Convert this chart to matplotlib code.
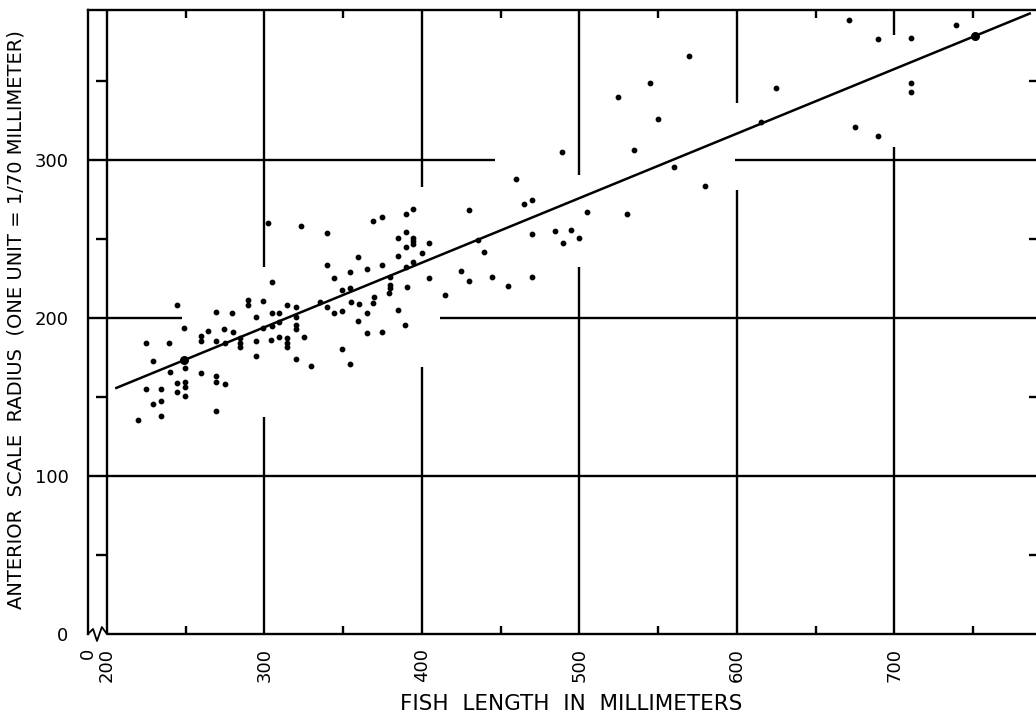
import numpy as np
import matplotlib
matplotlib.use('Agg')
import matplotlib.pyplot as plt

# fish length (mm) vs anterior scale radius (1/70 mm units)
length = [339.5, 339.5, 304.6, 344.3, 354.3, 244.6, 289.3, 289.3, 299.2, 269.6,
          279.6, 294.4, 304.6, 309.4, 314.5, 319.8, 319.8, 335.2, 339.5, 344.3,
          349.6, 349.6, 354.3, 249.1, 264.3, 274.3, 279.8, 299.2, 304.6, 309.4,
          319.8, 319.8, 259.7, 259.7, 224.6, 239.6, 269.6, 274.9, 284.4, 284.4,
          284.4, 294.4, 304.1, 309.4, 314.5, 314.5, 314.5, 325.1, 229.4, 249.5,
          240.0, 259.7, 294.4, 319.8, 329.3, 349.6, 354.3, 224.6, 234.3, 244.6,
          249.5, 249.5, 244.6, 249.5, 269.6, 269.6, 274.9, 229.4, 234.3, 234.3,
          219.9, 269.6, 302.4, 323.2, 459.5, 464.8, 470.0, 429.8, 369.1, 374.4,
          389.8, 394.5, 389.8, 384.6, 394.5, 394.5, 394.5, 404.4, 389.8, 399.8,
          384.6, 394.5, 359.4, 374.8, 389.8, 364.9, 379.7, 404.6, 379.7, 379.7,
          379.2, 390.3, 369.7, 354.7, 360.0, 369.1, 364.9, 359.2, 384.9, 389.4,
          364.9, 374.4, 435.4, 439.5, 424.6, 429.8, 444.4, 454.8, 470.0, 470.0,
          484.4, 489.7, 494.8, 499.9, 414.6, 569.5, 544.9, 524.6, 550.0, 489.3,
          534.6, 560.2, 579.7, 504.6, 530.0, 625.2, 671.1, 689.7, 710.9, 739.0,
          710.9, 710.9, 674.9, 689.7, 615.2]
radius = [254.0, 233.5, 222.6, 225.1, 229.3, 208.2, 211.4, 208.2, 210.8, 204.0,
          203.0, 200.4, 203.0, 203.4, 208.2, 206.8, 200.4, 209.9, 207.1, 203.0,
          204.4, 217.7, 218.8, 193.5, 192.0, 193.0, 191.3, 193.5, 195.1, 197.3,
          195.6, 192.8, 188.6, 185.6, 184.4, 184.4, 185.4, 184.4, 187.1, 184.0,
          181.5, 185.4, 186.1, 188.2, 187.1, 184.4, 181.8, 187.8, 173.0, 168.5,
          166.0, 165.0, 176.1, 174.0, 169.8, 180.4, 170.7, 154.9, 155.1, 159.0,
          159.7, 156.5, 153.0, 150.8, 163.3, 159.7, 158.0, 145.6, 147.5, 138.2,
          135.4, 141.3, 260.3, 258.4, 287.8, 272.0, 274.7, 268.3, 261.4, 263.7,
          265.8, 269.0, 254.6, 250.4, 250.4, 248.7, 246.8, 247.7, 245.1, 241.3,
          239.4, 235.6, 238.8, 233.5, 232.5, 230.8, 226.1, 225.5, 220.9, 219.2,
          215.6, 219.8, 213.5, 210.3, 208.9, 209.3, 203.0, 198.1, 205.1, 195.6,
          190.7, 191.3, 249.4, 241.6, 229.7, 223.4, 226.1, 220.2, 226.1, 253.0,
          255.1, 247.7, 255.7, 250.4, 214.7, 366.0, 348.5, 340.1, 325.9, 305.2,
          306.3, 295.8, 283.5, 266.9, 265.6, 345.4, 388.6, 376.4, 377.4, 385.4,
          348.5, 342.8, 321.1, 315.2, 324.2]

# the two heavier dots on the fitted line
mean_length = [249.1, 751.1]
mean_radius = [173.4, 378.5]

# fitted line: radius = a + b * length
fit_a = 71.6
fit_b = 0.4086
fit_range = [206, 786]

xticks = [188, 200, 300, 400, 500, 600, 700]
xlabels = ['0', '200', '300', '400', '500', '600', '700']
yticks = [0, 100, 200, 300]

fig = plt.figure(figsize=(10.36, 7.19), dpi=100)
ax = fig.add_axes([88 / 1036, 85 / 719, 948 / 1036, 624 / 719])
ax.set_xlim(188, 790)
ax.set_ylim(0, 395)

lw = 1.7
# grid, broken where the points crowd it
ax.vlines(200, 0, 395, color='black', lw=lw)
ax.vlines([300, 400, 500, 600, 700], [232.3, 282.9, 290.5, 336.1, 379.1], 395, color='black', lw=lw)
ax.vlines([300, 400, 500, 600, 700], 0, [137.3, 169.0, 232.3, 281.0, 308.2], color='black', lw=lw)
ax.hlines(100, 188, 790, color='black', lw=lw)
ax.hlines([200, 300], 188, [247.6, 446.3], color='black', lw=lw)
ax.hlines([200, 300], [411.4, 598.7], 790, color='black', lw=lw)
ax.hlines(0, 200, 790, color='black', lw=lw, clip_on=False)
# short ticks on the inner left line
ax.hlines([50, 150, 250, 350], 193, 200, color='black', lw=lw)
# axis break mark
ax.plot([188, 191.2, 193.7, 196.8, 200], [0, 3.2, -4.4, 4.4, 0], color='black', lw=1.3, clip_on=False)

for side in ['right', 'bottom']:
    ax.spines[side].set_visible(False)
for side in ['left', 'top']:
    ax.spines[side].set_linewidth(lw)

ax.set_xticks(xticks)
ax.set_xticklabels(xlabels, rotation=90, fontsize=13)
ax.set_xticks(np.arange(250, 790, 100), minor=True)
ax.set_yticks(yticks)
ax.set_yticklabels([str(v) for v in yticks], fontsize=13)
ax.set_yticks([50, 150, 250, 350], minor=True)
ax.tick_params(axis='x', which='major', length=0, pad=10)
ax.tick_params(axis='y', which='major', length=0, pad=14)
ax.tick_params(axis='x', which='minor', direction='in', top=True, bottom=True, length=6, width=lw)
ax.tick_params(axis='y', which='minor', direction='in', left=False, right=True, length=5, width=lw)

x_fit = np.array(fit_range)
ax.plot(x_fit, fit_a + fit_b * x_fit, color='black', lw=1.8)
ax.scatter(length, radius, s=10, color='black', zorder=3)
ax.scatter(mean_length, mean_radius, s=30, color='black', zorder=3)

fig.text(571 / 1036, 1 - 704 / 719, 'FISH  LENGTH  IN  MILLIMETERS', fontsize=15.5, ha='center', va='center')
fig.text(16 / 1036, 1 - 320 / 719, 'ANTERIOR  SCALE  RADIUS  (ONE UNIT = 1/70 MILLIMETER)',
         fontsize=14, rotation=90, ha='center', va='center')

fig.savefig('out.png', dpi=100)
